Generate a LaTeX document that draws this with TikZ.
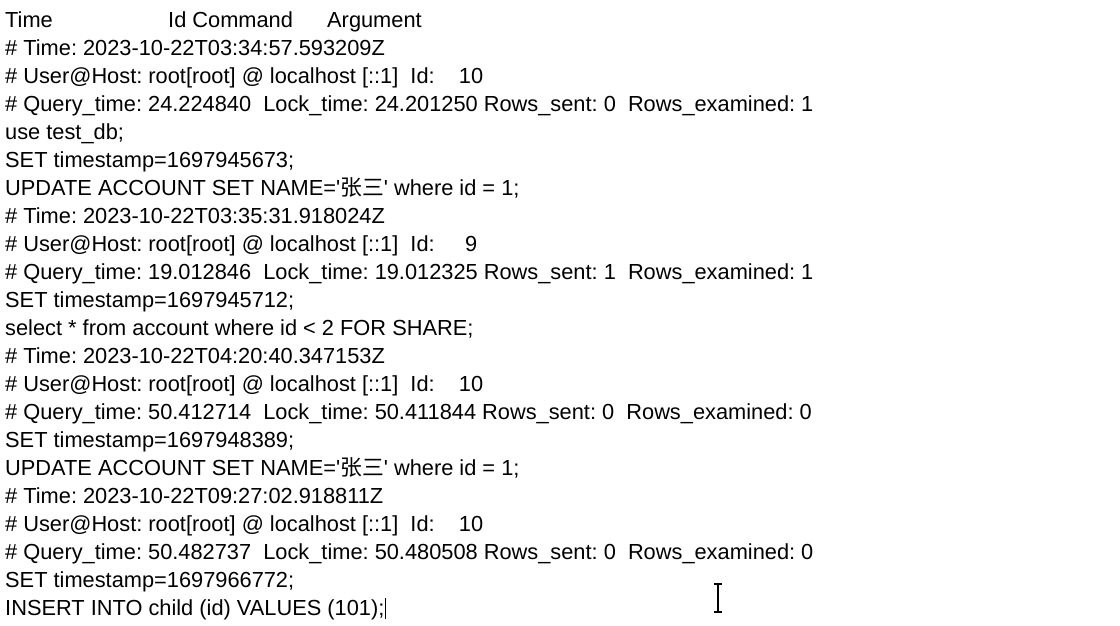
\documentclass[tikz,border=0pt]{standalone}
\usepackage{fontspec}
\setmainfont[Ligatures=NoCommon]{Liberation Sans}
\newfontfamily\cjk{Noto Sans CJK SC}
\begin{document}
\frenchspacing
\begin{tikzpicture}[x=1pt,y=1pt,
  ln/.style={anchor=base west,inner sep=0pt,font=\fontsize{21.8}{24}\selectfont}]
\useasboundingbox (0,0) rectangle (1120,-625);
\fill[white] (0,0) rectangle (1120,-625);
\node[ln] (h1) at (5,-27) {Time};
\node[ln] (h2) at (168,-27) {Id Command};
\node[ln] (h3) at (327,-27) {Argument};
\foreach \t [count=\i] in {
{\# Time: 2023-10-22T03:34:57.593209Z},
{\# User@Host: root[root] @ localhost [::1]\ \ Id:\ \ \ \ 10},
{\# Query\_time: 24.224840\ \ Lock\_time: 24.201250 Rows\_sent: 0\ \ Rows\_examined: 1},
{use test\_db;},
{SET timestamp=1697945673;},
{UPDATE ACCOUNT SET NAME=\textquotesingle{\cjk 张三}\textquotesingle{} where id = 1;},
{\# Time: 2023-10-22T03:35:31.918024Z},
{\# User@Host: root[root] @ localhost [::1]\ \ Id:\ \ \ \ \ 9},
{\# Query\_time: 19.012846\ \ Lock\_time: 19.012325 Rows\_sent: 1\ \ Rows\_examined: 1},
{SET timestamp=1697945712;},
{select * from account where id < 2 FOR SHARE;},
{\# Time: 2023-10-22T04:20:40.347153Z},
{\# User@Host: root[root] @ localhost [::1]\ \ Id:\ \ \ \ 10},
{\# Query\_time: 50.412714\ \ Lock\_time: 50.411844 Rows\_sent: 0\ \ Rows\_examined: 0},
{SET timestamp=1697948389;},
{UPDATE ACCOUNT SET NAME=\textquotesingle{\cjk 张三}\textquotesingle{} where id = 1;},
{\# Time: 2023-10-22T09:27:02.918811Z},
{\# User@Host: root[root] @ localhost [::1]\ \ Id:\ \ \ \ 10},
{\# Query\_time: 50.482737\ \ Lock\_time: 50.480508 Rows\_sent: 0\ \ Rows\_examined: 0},
{SET timestamp=1697966772;},
{INSERT INTO child (id) VALUES (101);}}
  \node[ln] (l\i) at (5,-27-28*\i) {\t};
\draw[line width=1.2pt] (l21.base east)++(1,-4) -- ++(0,21);
\draw[line width=1.5pt] (718,-584) -- (718,-612) (714,-584) -- (722,-584) (714,-612) -- (722,-612);
\end{tikzpicture}
\end{document}
